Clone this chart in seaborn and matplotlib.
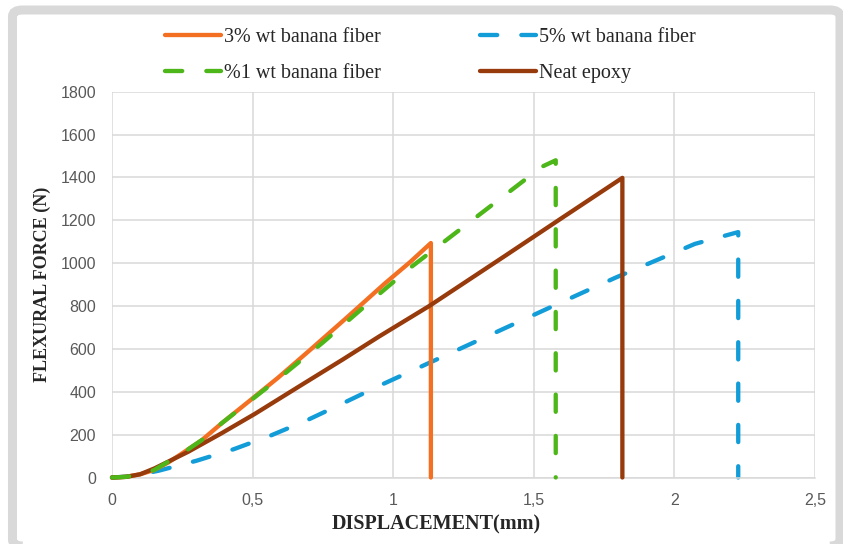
import numpy as np
import matplotlib
matplotlib.use("Agg")
import matplotlib.pyplot as plt
import seaborn as sns
from matplotlib.lines import Line2D
from matplotlib.patches import FancyBboxPatch
from matplotlib.ticker import FuncFormatter, MultipleLocator

# data (displacement mm, force N)
x_3pct = [0, 0.05, 0.10, 0.15, 0.20, 0.25, 0.32, 0.39, 0.48, 0.59, 0.70, 0.84, 0.97, 1.06, 1.134, 1.134]
y_3pct = [0, 3, 15, 35, 70, 113, 175, 253, 348, 465, 590, 752, 905, 1005, 1094, 0]

x_1pct = [0, 0.05, 0.10, 0.15, 0.25, 0.32, 0.39, 0.48, 0.596, 0.75, 0.90, 1.057, 1.181, 1.35, 1.529, 1.578, 1.578]
y_1pct = [0, 3, 15, 35, 113, 175, 253, 346, 465, 630, 800, 975, 1100, 1270, 1450, 1480, 0]

x_5pct = [0, 0.05, 0.10, 0.167, 0.30, 0.433, 0.563, 0.69, 0.80, 0.962, 1.2, 1.577, 1.79, 2.073, 2.227, 2.227]
y_5pct = [0, 4, 14, 32, 78, 132, 195, 265, 333, 435, 578, 805, 932, 1090, 1145, 0]

x_neat = [0, 0.05, 0.10, 0.152, 0.271, 0.389, 0.507, 0.684, 0.82, 0.95, 1.128, 1.40, 1.60, 1.815, 1.815]
y_neat = [0, 3, 15, 43, 120, 206, 296, 440, 550, 658, 800, 1036, 1211, 1398, 0]

labels = ["3% wt banana fiber", "%1 wt banana fiber", "5% wt banana fiber", "Neat epoxy"]
colors = ["#F36F21", "#4DB619", "#129CD8", "#973A0C"]

sns.set_style("white")
plt.rcParams["font.family"] = ["Liberation Serif", "DejaVu Serif"]

fig = plt.figure(figsize=(8.43, 5.44), dpi=100)
W, H = 843, 544
ax = fig.add_axes([112 / W, 1 - 477.5 / H, (815 - 112) / W, (477.5 - 91.7) / H])

lw = 3.1
dash = (0, (4.0, 5.6))
series = [
    (x_5pct, y_5pct, colors[2], dash, 2),
    (x_3pct, y_3pct, colors[0], "-", 3),
    (x_neat, y_neat, colors[3], "-", 4),
    (x_1pct, y_1pct, colors[1], dash, 5),
]
for xs, ys, c, ls, z in series:
    sns.lineplot(x=xs, y=ys, ax=ax, sort=False, estimator=None, color=c,
                 linewidth=lw, linestyle=ls, dash_capstyle="round",
                 solid_capstyle="round", zorder=z, clip_on=False)

ax.set_xlim(0, 2.5)
ax.set_ylim(0, 1800)
ax.xaxis.set_major_locator(MultipleLocator(0.5))
ax.yaxis.set_major_locator(MultipleLocator(200))
ax.xaxis.set_major_formatter(FuncFormatter(lambda v, p: f"{v:g}".replace(".", ",")))
ax.grid(True, color="#d9d9d9", linewidth=1.1)
ax.set_axisbelow(True)
for s in ["top", "right", "left"]:
    ax.spines[s].set_visible(False)
ax.spines["bottom"].set_color("#d9d9d9")
ax.spines["bottom"].set_linewidth(1.1)
ax.tick_params(length=0, labelcolor="#595959", labelsize=11.5)
ax.tick_params(axis="y", pad=11.5)
ax.tick_params(axis="x", pad=11)
for t in ax.get_xticklabels() + ax.get_yticklabels():
    t.set_family(["Liberation Sans", "DejaVu Sans"])

ax.set_xlabel("DISPLACEMENT(mm)", fontsize=14.5, fontweight="bold")
ax.set_ylabel("FLEXURAL FORCE (N)", fontsize=13, fontweight="bold")
ax.xaxis.set_label_coords(0.461, -0.095)
ax.yaxis.set_label_coords(-0.087, 0.5)

handles = [Line2D([0], [0], color=colors[i], linewidth=lw,
                  linestyle=("-" if i in (0, 3) else dash),
                  dash_capstyle="round", solid_capstyle="round") for i in range(4)]
fig.legend(handles, labels, ncol=2, loc="upper left",
           bbox_to_anchor=(165 / W, 1 - 28 / H), frameon=False, fontsize=14.5,
           handlelength=2.8, handletextpad=0.15, columnspacing=4.9,
           labelspacing=0.82, borderpad=0, borderaxespad=0)

frame = FancyBboxPatch((12.5 / W, 1 - 546 / H), (840 - 12.5) / W, (546 - 10) / H,
                       boxstyle="round,pad=0,rounding_size=0.012",
                       transform=fig.transFigure, facecolor="none",
                       edgecolor="#d9d9d9", linewidth=6.5, zorder=0)
fig.patches.append(frame)

fig.savefig("out.png", dpi=100)
